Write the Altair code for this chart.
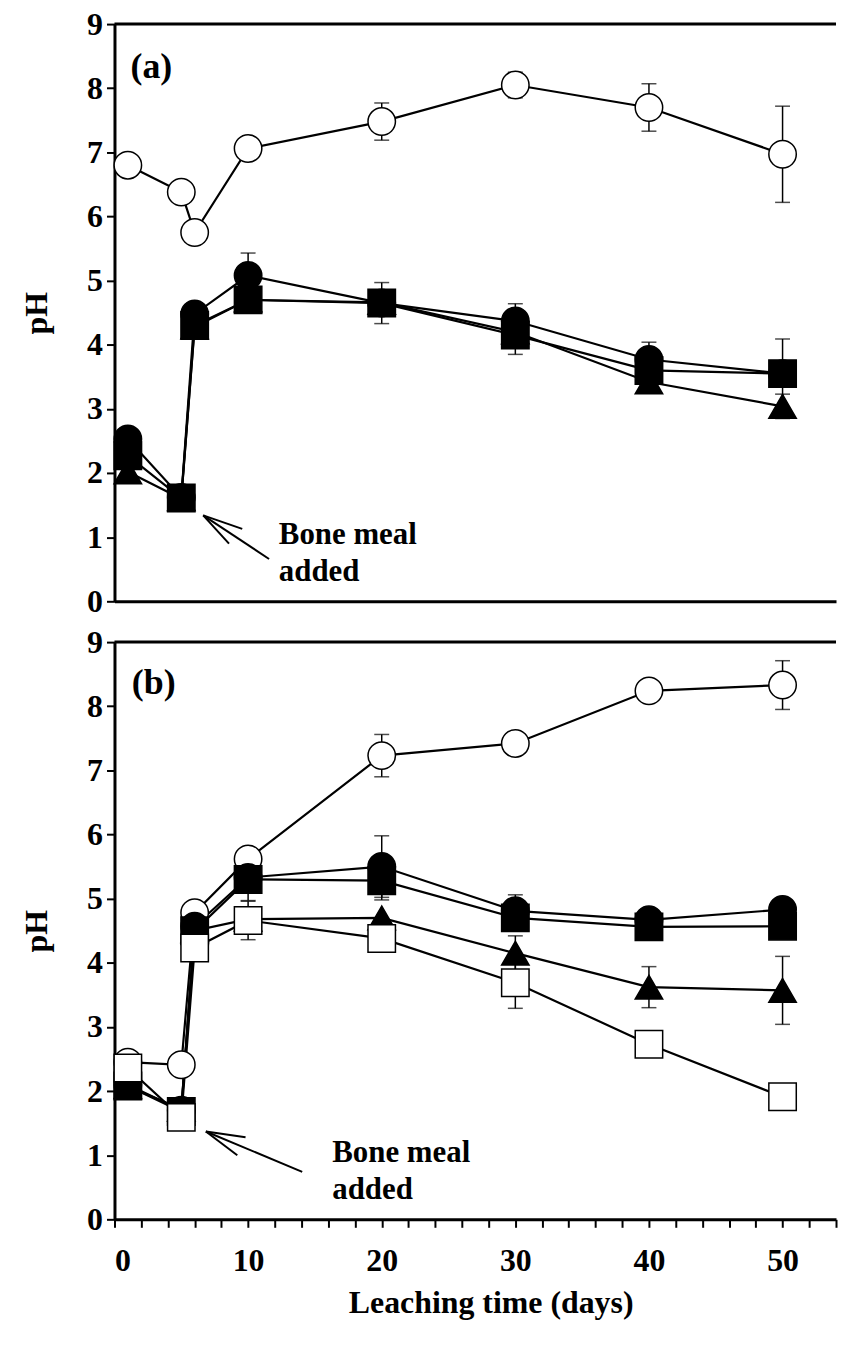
import altair as alt
import pandas as pd

# ---------------- data ----------------
days = [1, 5, 6, 10, 20, 30, 40, 50]
series = ["Open circle", "Filled circle", "Filled square", "Filled triangle", "Open square"]
shapes = ["circle", "circle", "square", "triangle-up", "square"]
fills = ["white", "black", "black", "black", "white"]
sizes = [760, 760, 650, 820, 650]

# panel (a)
a_open_circle = [6.80, 6.38, 5.75, 7.06, 7.48, 8.05, 7.70, 6.97]
a_filled_circle = [2.53, 1.62, 4.48, 5.08, 4.65, 4.37, 3.77, 3.55]
a_filled_square = [2.27, 1.61, 4.30, 4.70, 4.65, 4.15, 3.60, 3.55]
a_filled_triangle = [2.02, 1.60, 4.28, 4.70, 4.66, 4.20, 3.42, 3.04]

a_open_circle_err = [0, 0, 0, 0, 0.29, 0.20, 0.37, 0.75]
a_filled_circle_err = [0, 0, 0, 0.35, 0, 0.27, 0.27, 0]
a_filled_square_err = [0, 0, 0, 0, 0.32, 0.30, 0, 0.54]
a_filled_triangle_err = [0, 0, 0, 0, 0, 0, 0, 0.19]

# panel (b)
b_open_circle = [2.45, 2.41, 4.78, 5.62, 7.23, 7.42, 8.24, 8.33]
b_filled_circle = [2.10, 1.70, 4.57, 5.33, 5.50, 4.81, 4.67, 4.83]
b_filled_square = [2.08, 1.68, 4.50, 5.30, 5.28, 4.70, 4.56, 4.57]
b_filled_triangle = [2.07, 1.72, 4.50, 4.68, 4.70, 4.15, 3.62, 3.57]
b_open_square = [2.36, 1.59, 4.23, 4.66, 4.38, 3.69, 2.73, 1.91]

b_open_circle_err = [0, 0, 0, 0, 0.33, 0.18, 0, 0.38]
b_filled_circle_err = [0, 0, 0, 0, 0.48, 0.25, 0, 0]
b_filled_square_err = [0, 0, 0, 0.33, 0.30, 0, 0, 0]
b_filled_triangle_err = [0, 0, 0, 0, 0, 0.27, 0.32, 0.53]
b_open_square_err = [0, 0, 0, 0.30, 0, 0.40, 0, 0]

panel_labels = ["(a)", "(b)"]
note_lines = ["Bone meal", "added"]

FONT = "Liberation Serif"
W, H = 725, 580
X_MAX = 54


def build(values_list, errs_list, names):
    rows = []
    for name, vals, errs in zip(names, values_list, errs_list):
        for d, v, e in zip(days, vals, errs):
            rows.append({"series": name, "day": d, "pH": v, "err": e,
                         "lo": v - e, "hi": v + e})
    return pd.DataFrame(rows)


df_a = build([a_open_circle, a_filled_circle, a_filled_square, a_filled_triangle],
             [a_open_circle_err, a_filled_circle_err, a_filled_square_err, a_filled_triangle_err],
             series[:4])
df_b = build([b_open_circle, b_filled_circle, b_filled_square, b_filled_triangle, b_open_square],
             [b_open_circle_err, b_filled_circle_err, b_filled_square_err, b_filled_triangle_err,
              b_open_square_err],
             series)

# annotation positions (data units)
label_pos = [(1.2, 8.33), (1.3, 8.36)]
note_pos = [(12.3, [1.03, 0.46]), (16.3, [1.03, 0.46])]
arrows = [
    [(6.64, 1.34, 11.57, 0.66), (6.64, 1.34, 9.56, 1.13), (6.64, 1.34, 8.57, 0.90)],
    [(6.84, 1.37, 14.05, 0.74), (6.84, 1.37, 9.81, 1.28), (6.84, 1.37, 9.19, 1.00)],
]

y_scale = alt.Scale(domain=[0, 9], nice=False, zero=False)
x_scale = alt.Scale(domain=[0, X_MAX], nice=False, zero=False)

y_axis = alt.Axis(values=list(range(0, 10)), title="pH", tickSize=8, labelPadding=4,
                  titleAngle=270, titleBaseline="middle", titleAlign="center",
                  titleX=-78, titleY=H / 2, titleFontSize=32)


def panel(df, idx, bottom):
    if bottom:
        x_axis = alt.Axis(values=list(range(0, X_MAX + 1, 2)),
                          labelExpr="datum.value % 10 == 0 ? datum.label : ''",
                          tickSize=8, labelPadding=18, labelBaseline="top",
                          title="Leaching time (days)", titleFontSize=32,
                          titleBaseline="middle", titleX=378, titleY=84)
    else:
        x_axis = alt.Axis(labels=False, ticks=False, title=None)

    X = alt.X("day:Q", scale=x_scale, axis=x_axis)
    Y = alt.Y("pH:Q", scale=y_scale, axis=y_axis)

    base = alt.Chart(df)
    errs = base.transform_filter("datum.err > 0")

    err_rule = errs.mark_rule(color="black", strokeWidth=1.5).encode(
        x=X, y=alt.Y("lo:Q", scale=y_scale, axis=y_axis), y2="hi:Q")
    cap_lo = errs.mark_tick(color="black", orient="horizontal", size=15, thickness=1.5).encode(
        x=X, y=alt.Y("lo:Q", scale=y_scale, axis=y_axis))
    cap_hi = errs.mark_tick(color="black", orient="horizontal", size=15, thickness=1.5).encode(
        x=X, y=alt.Y("hi:Q", scale=y_scale, axis=y_axis))

    lines = base.mark_line(color="black", strokeWidth=2.2).encode(
        x=X, y=Y, detail="series:N", order="day:Q")

    pts = base.mark_point(filled=True, opacity=1, stroke="black", strokeWidth=1.5).encode(
        x=X, y=Y,
        shape=alt.Shape("series:N", scale=alt.Scale(domain=series, range=shapes), legend=None),
        fill=alt.Fill("series:N", scale=alt.Scale(domain=series, range=fills), legend=None),
        size=alt.Size("series:N", scale=alt.Scale(domain=series, range=sizes), legend=None),
    )

    lab_df = pd.DataFrame([{"day": label_pos[idx][0], "pH": label_pos[idx][1],
                            "text": panel_labels[idx]}])
    lab = alt.Chart(lab_df).mark_text(font=FONT, fontWeight="bold", fontSize=36,
                                      align="left", baseline="middle", color="black").encode(
        x=X, y=Y, text="text:N")

    nx, nys = note_pos[idx]
    note_df = pd.DataFrame([{"day": nx, "pH": yy, "text": t} for yy, t in zip(nys, note_lines)])
    note = alt.Chart(note_df).mark_text(font=FONT, fontWeight="bold", fontSize=31,
                                        align="left", baseline="middle", color="black").encode(
        x=X, y=Y, text="text:N")

    arr_df = pd.DataFrame([{"day": a, "pH": b, "day2": c, "pH2": d} for a, b, c, d in arrows[idx]])
    arr = alt.Chart(arr_df).mark_rule(color="black", strokeWidth=2).encode(
        x=X, y=Y, x2="day2:Q", y2="pH2:Q")

    top = alt.Chart(lab_df).mark_rule(color="black", strokeWidth=3).encode(
        x=alt.value(0), x2=alt.value(W), y=alt.value(0))

    return alt.layer(err_rule, cap_lo, cap_hi, lines, pts, arr, lab, note, top).properties(
        width=W, height=H)


chart = alt.vconcat(panel(df_a, 0, False), panel(df_b, 1, True), spacing=9).properties(
    padding={"left": 13, "top": -3, "right": 0, "bottom": 0}
).configure_view(stroke=None).configure_axis(
    domainColor="black", domainWidth=3, tickColor="black", tickWidth=2, grid=False,
    labelFont=FONT, labelFontWeight="bold", labelFontSize=32, labelColor="black",
    titleFont=FONT, titleFontWeight="bold", titleColor="black",
)

chart.save("out.html", embed_options={"renderer": "svg", "actions": False})
